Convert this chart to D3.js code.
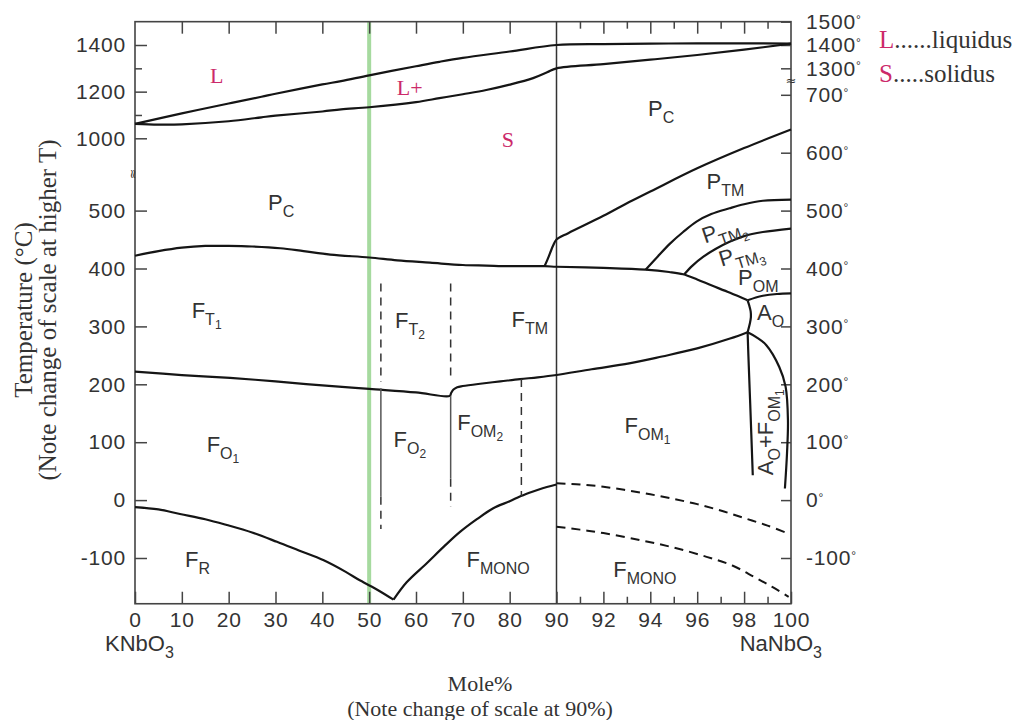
<!DOCTYPE html>
<html>
<head>
<meta charset="utf-8">
<script src="https://cdn.jsdelivr.net/npm/d3@7"></script>
<style>
  body { margin: 0; background: #fff; }
  .frame { fill: none; stroke: #444; stroke-width: 1.6; }
  .axis path.domain { display: none; }
  .axis line { stroke: #444; stroke-width: 1.5; }
  .axis text { font-family: "Liberation Sans", Arial, sans-serif; font-size: 21px; fill: #333; letter-spacing: 0.8px; }
  .line { fill: none; stroke: #151515; stroke-width: 2.2; }
  .dash { fill: none; stroke: #151515; stroke-width: 2; stroke-dasharray: 9 6; }
  .thin { fill: none; stroke: #555; stroke-width: 1.5; }
  .thindash { fill: none; stroke: #333; stroke-width: 1.5; stroke-dasharray: 8 6; }
  .region { font-family: "Liberation Sans", Arial, sans-serif; fill: #333; }
  .serif { font-family: "Liberation Serif", "Times New Roman", serif; fill: #333; }
  .pink { fill: #cc2a6a; }
</style>
</head>
<body>
<div class="chart"></div>
<script>
// ---- data: [mole % NaNbO3, temperature °C]
var moleTicks = [0, 10, 20, 30, 40, 50, 60, 70, 80, 90, 92, 94, 96, 98, 100];
var moleTopTicks = [10, 20, 30, 40, 50, 60, 70, 80, 92, 94, 96, 98];
var moleMinor = [91, 93, 95, 97, 99];
var tempLowTicks = [-100, 0, 100, 200, 300, 400, 500];
var tempHighTicks = [1000, 1200, 1400];
var tempHighMinor = [1100, 1300];
var rightLowTicks = [-100, 0, 100, 200, 300, 400, 500, 600, 700];
var rightHighTicks = [1300, 1400, 1500];

// liquidus / solidus (upper temperature scale)
var liquidus = [[0,1062],[10,1107],[20,1149],[27,1178],[30,1191],[40,1231],[44,1245],[50,1270],[60,1309],[65,1328],[70,1345],[80,1372],[90,1400],[92,1404],[94,1406],[96,1407],[98,1407],[100,1406]];
var solidus = [[0,1062],[5,1059],[10,1060],[20,1073],[27,1090],[30,1097],[40,1115],[44,1124],[50,1133],[60,1155],[65,1172],[70,1189],[75,1207],[80,1230],[85,1258],[88,1283],[90,1300],[92,1318],[94,1337],[96,1357],[98,1380],[100,1406]];

// lower temperature scale
var curie = [[0,422],[5,430],[10,436],[15,439],[20,439],[25,438],[31,435],[36,430],[41.7,424],[50,419],[56,414],[63,410],[70,406],[75,405],[80,404],[87.5,404],[90,403],[92,401],[93.8,398],[94.8,394],[95.4,390],[96,381],[96.6,371],[97.4,358],[98.15,345]];
var pcPtm = [[87.5,405],[88,414],[88.6,426],[89.3,440],[90,450],[90.5,461],[92,491],[93.1,515],[94,533],[96,573],[98,608],[100,640]];
var ptm2 = [[93.8,398],[94.3,420],[94.84,443],[95.4,463],[95.97,481],[96.6,494],[97.38,504],[98,511],[98.8,517],[100,519]];
var ptm3 = [[95.45,390],[95.8,405],[96.25,420],[96.8,434],[97.38,446],[98,456],[98.8,463],[100,469]];
var pomAo = [[98.15,345],[98.5,350],[98.8,353],[99.4,356],[100,357]];
var aoBulge = [[98.15,345],[98.22,336],[98.28,326],[98.29,316],[98.24,304],[98.15,290]];
var ftFo = [[0,222],[10,216],[20.3,211],[30,205],[40,198],[50,192],[60,186],[67.2,180],[67.5,185],[68,191],[68.8,195],[70,197],[73.7,201],[78,205],[82.2,209],[86,212],[90,216],[91.5,226],[93.1,236],[94.5,248],[96,262],[97.4,279],[98.15,290]];
var aoFomLeft = [[98.15,290],[98.18,253],[98.26,167],[98.37,43]];
var aoFomRight = [[98.15,290],[98.5,282],[98.94,268],[99.5,230],[99.77,196],[99.87,138],[99.83,81],[99.74,20]];
var monoLeft = [[0,-12],[5,-16],[9.6,-24],[15,-33],[19.6,-43],[25,-56],[30.3,-72],[35,-87],[40.3,-104],[45,-124],[48.1,-139],[52,-156],[55.2,-172]];
var monoRight = [[55.2,-172],[58,-142],[62.3,-109],[66,-80],[69.4,-55],[73,-33],[76.5,-14],[80,-2],[82.4,7],[85,15],[87.2,21],[90,27]];
var monoDashUpper = [[90,29],[91,27],[92,23],[93,17],[94,10],[95,2],[96,-7],[97,-18],[98,-31],[99,-44],[99.9,-58]];
var monoDashLower = [[90,-46],[91,-51],[92,-57],[93.55,-69],[95,-82],[96.4,-98],[97.5,-113],[98.4,-132],[99.2,-150],[99.9,-167]];

// vertical phase limits
var v52Dashed = [[[52.5,374],[52.5,204]], [[52.5,6],[52.5,-50]]];
var v52Solid = [[52.5,193],[52.5,6]];
var v67Dashed = [[[67.4,374],[67.4,205]], [[67.4,37],[67.4,-12]]];
var v67Solid = [[67.4,180],[67.4,37]];
var v82Dashed = [[82.5,209],[82.5,7]];

// ---- layout
var width = 1027, height = 720;

var xScale = d3.scaleLinear()
    .domain([0, 90, 100])          // scale changes at 90 %
    .range([135, 556.5, 791]);

var yLow = d3.scaleLinear()
    .domain([-100, 500])
    .range([558, 210.6]);

var yHigh = d3.scaleLinear()
    .domain([1000, 1400])
    .range([138.3, 45]);

var plotTop = yHigh(1500), plotBottom = yLow(-179);
var plotLeft = xScale(0), plotRight = xScale(100);

var svg = d3.select(".chart").append("svg")
    .attr("width", width)
    .attr("height", height);

// green guide at 50 %
svg.append("line")
    .attr("x1", xScale(50)).attr("x2", xScale(50))
    .attr("y1", plotTop).attr("y2", plotBottom)
    .style("stroke", "#a6da9f")
    .style("stroke-width", 4);

// frame
svg.append("rect")
    .attr("class", "frame")
    .attr("x", plotLeft).attr("y", plotTop)
    .attr("width", plotRight - plotLeft)
    .attr("height", plotBottom - plotTop);

// 90 % line (scale change)
svg.append("line")
    .attr("x1", xScale(90)).attr("x2", xScale(90))
    .attr("y1", plotTop).attr("y2", plotBottom)
    .style("stroke", "#333")
    .style("stroke-width", 1.5);

// ---- axes (ticks point inward)
svg.append("g").attr("class", "axis")
    .attr("transform", "translate(0," + plotBottom + ")")
    .call(d3.axisBottom(xScale).tickValues(moleTicks).tickSizeInner(-12).tickSizeOuter(0).tickPadding(8).tickFormat(d => d));
svg.append("g").attr("class", "axis")
    .attr("transform", "translate(0," + plotBottom + ")")
    .call(d3.axisBottom(xScale).tickValues(moleMinor).tickSizeInner(-7).tickSizeOuter(0).tickFormat(""));
svg.append("g").attr("class", "axis")
    .attr("transform", "translate(0," + plotTop + ")")
    .call(d3.axisTop(xScale).tickValues(moleTopTicks).tickSizeInner(-12).tickSizeOuter(0).tickFormat(""));
svg.append("g").attr("class", "axis")
    .attr("transform", "translate(0," + plotTop + ")")
    .call(d3.axisTop(xScale).tickValues(moleMinor).tickSizeInner(-7).tickSizeOuter(0).tickFormat(""));

svg.append("g").attr("class", "axis")
    .attr("transform", "translate(" + plotLeft + ",0)")
    .call(d3.axisLeft(yLow).tickValues(tempLowTicks).tickSizeInner(-12).tickSizeOuter(0).tickPadding(9).tickFormat(d => d));
svg.append("g").attr("class", "axis")
    .attr("transform", "translate(" + plotLeft + ",0)")
    .call(d3.axisLeft(yHigh).tickValues(tempHighTicks).tickSizeInner(-12).tickSizeOuter(0).tickPadding(9).tickFormat(d => d));
svg.append("g").attr("class", "axis")
    .attr("transform", "translate(" + plotLeft + ",0)")
    .call(d3.axisLeft(yHigh).tickValues(tempHighMinor).tickSizeInner(-7).tickSizeOuter(0).tickFormat(""));

function degreeLabels(g) {
  g.selectAll("text").each(function(d) {
    var t = d3.select(this).text(null);
    t.append("tspan").text(d);
    t.append("tspan").attr("dy", "-0.45em").style("font-size", "12px").text("°");
  });
}
svg.append("g").attr("class", "axis")
    .attr("transform", "translate(" + plotRight + ",0)")
    .call(d3.axisRight(yLow).tickValues(rightLowTicks).tickSizeInner(-10).tickSizeOuter(0).tickPadding(15))
    .call(degreeLabels);
svg.append("g").attr("class", "axis")
    .attr("transform", "translate(" + plotRight + ",0)")
    .call(d3.axisRight(yHigh).tickValues(rightHighTicks).tickSizeInner(-10).tickSizeOuter(0).tickPadding(15))
    .call(degreeLabels);

// scale break marks (left one turned on its side)
[[plotLeft - 1, 174, 90], [plotRight, 80, 0]].forEach(function(p) {
  svg.append("text")
      .attr("transform", "translate(" + p[0] + "," + p[1] + ") rotate(" + p[2] + ")")
      .attr("text-anchor", "middle")
      .attr("dy", "0.35em")
      .style("font-family", "DejaVu Sans")
      .style("font-size", "13px")
      .style("fill", "#333")
      .text("≈");
});

// ---- phase boundaries
var lineLow = d3.line()
    .x(d => xScale(d[0]))
    .y(d => yLow(d[1]))
    .curve(d3.curveCatmullRom.alpha(0.5));
var lineHigh = d3.line()
    .x(d => xScale(d[0]))
    .y(d => yHigh(d[1]))
    .curve(d3.curveCatmullRom.alpha(0.5));
var straight = d3.line()
    .x(d => xScale(d[0]))
    .y(d => yLow(d[1]));

[liquidus, solidus].forEach(function(c) {
  svg.append("path").datum(c).attr("class", "line").attr("d", lineHigh);
});
[curie, pcPtm, ptm2, ptm3, pomAo, aoBulge, ftFo, aoFomLeft, aoFomRight, monoLeft, monoRight].forEach(function(c) {
  svg.append("path").datum(c).attr("class", "line").attr("d", lineLow);
});
[monoDashUpper, monoDashLower].forEach(function(c) {
  svg.append("path").datum(c).attr("class", "dash").attr("d", lineLow);
});
v52Dashed.concat(v67Dashed, [v82Dashed]).forEach(function(s) {
  svg.append("path").datum(s).attr("class", "thindash").attr("d", straight);
});
[v52Solid, v67Solid].forEach(function(s) {
  svg.append("path").datum(s).attr("class", "thin").attr("d", straight);
});

// ---- phase field labels: parts are [text, level] (0 main, 1 subscript, 2 sub-subscript)
var levelSize = [22, 16, 12], levelShift = [0, 7, 11];
function phaseLabel(x, y, parts, rot) {
  var t = svg.append("text").attr("class", "region")
      .attr("transform", "translate(" + x + "," + y + ") rotate(" + (rot || 0) + ")");
  var prev = 0;
  parts.forEach(function(p) {
    t.append("tspan")
        .attr("dy", levelShift[p[1]] - levelShift[prev])
        .style("font-size", levelSize[p[1]] + "px")
        .text(p[0]);
    prev = p[1];
  });
  return t;
}

phaseLabel(xScale(28.4), yLow(501), [["P",0],["C",1]]);
phaseLabel(xScale(93.9), yLow(663), [["P",0],["C",1]]);
phaseLabel(xScale(96.4), yLow(538), [["P",0],["TM",1]]);
phaseLabel(xScale(96.33), yLow(443), [["P",0],["TM",1],["2",2]], -19);
phaseLabel(xScale(97.04), yLow(403), [["P",0],["TM",1],["3",2]], -17);
phaseLabel(xScale(97.74), yLow(371), [["P",0],["OM",1]]);
phaseLabel(xScale(98.55), yLow(311), [["A",0],["O",1]]);
phaseLabel(xScale(12.1), yLow(315), [["F",0],["T",1],["1",2]]);
phaseLabel(xScale(55.5), yLow(297), [["F",0],["T",1],["2",2]]);
phaseLabel(xScale(80.4), yLow(299), [["F",0],["TM",1]]);
phaseLabel(xScale(15.3), yLow(83), [["F",0],["O",1],["1",2]]);
phaseLabel(xScale(55.2), yLow(92), [["F",0],["O",1],["2",2]]);
phaseLabel(xScale(68.8), yLow(121), [["F",0],["OM",1],["2",2]]);
phaseLabel(xScale(92.9), yLow(116), [["F",0],["OM",1],["1",2]]);
phaseLabel(xScale(10.7), yLow(-115), [["F",0],["R",1]]);
phaseLabel(xScale(70.8), yLow(-115), [["F",0],["MONO",1]]);
phaseLabel(xScale(92.42), yLow(-132), [["F",0],["MONO",1]]);
phaseLabel(xScale(99.25), yLow(43), [["A",0],["O",1],["+F",0],["OM",1],["1",2]], -90);

// liquid / solid labels
function pinkLabel(x, y, txt) {
  svg.append("text").attr("class", "serif pink")
      .attr("x", x).attr("y", y)
      .style("font-size", "22px")
      .text(txt);
}
pinkLabel(xScale(16), yHigh(1238), "L");
pinkLabel(xScale(55.9), yHigh(1186), "L+");
pinkLabel(xScale(78.3), yHigh(964), "S");

// legend
var legend = [["L", "......liquidus", 48], ["S", ".....solidus", 82]];
legend.forEach(function(l) {
  var t = svg.append("text").attr("class", "serif")
      .attr("x", 879).attr("y", l[2])
      .style("font-size", "25px");
  t.append("tspan").attr("class", "pink").text(l[0]);
  t.append("tspan").text(l[1]);
});

// end member names
function formula(x, y, name, anchor) {
  var t = svg.append("text").attr("class", "region")
      .attr("x", x).attr("y", y)
      .attr("text-anchor", anchor)
      .style("font-size", "22px");
  t.append("tspan").text(name);
  t.append("tspan").attr("dy", 7).style("font-size", "16px").text("3");
}
formula(plotLeft - 30, 651, "KNbO", "start");
formula(plotRight + 31, 651, "NaNbO", "end");

// axis titles
svg.append("text").attr("class", "serif")
    .attr("x", 480).attr("y", 691)
    .attr("text-anchor", "middle")
    .style("font-size", "22px")
    .text("Mole%");
svg.append("text").attr("class", "serif")
    .attr("x", 480).attr("y", 716)
    .attr("text-anchor", "middle")
    .style("font-size", "22px")
    .text("(Note change of scale at 90%)");

svg.append("text").attr("class", "serif")
    .attr("transform", "translate(32,310) rotate(-90)")
    .attr("text-anchor", "middle")
    .style("font-size", "25px")
    .text("Temperature (°C)");
svg.append("text").attr("class", "serif")
    .attr("transform", "translate(56,310) rotate(-90)")
    .attr("text-anchor", "middle")
    .style("font-size", "25px")
    .text("(Note change of scale at higher T)");
</script>
</body>
</html>
